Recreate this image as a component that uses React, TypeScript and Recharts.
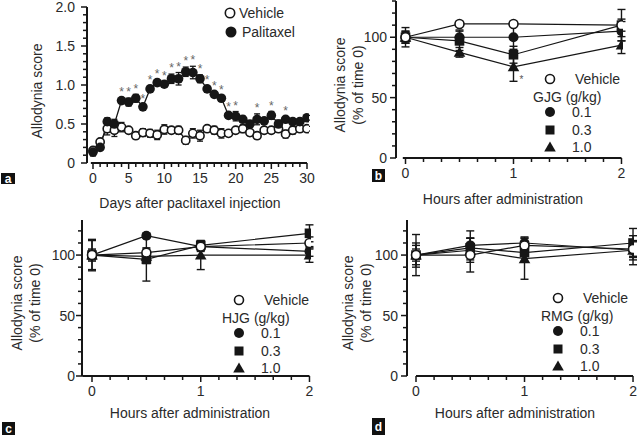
import React from 'react';
import { ComposedChart, Line, Scatter, XAxis, YAxis, ErrorBar, ReferenceLine } from 'recharts';

const FONT = '"Liberation Sans", Arial, sans-serif';
const INK = '#161616';
const TEXT = '#2a2a2a';

// panel a: allodynia score over days
const days = [0, 1, 2, 3, 4, 5, 6, 7, 8, 9, 10, 11, 12, 13, 14, 15, 16, 17, 18, 19, 20, 21, 22, 23, 24, 25, 26, 27, 28, 29, 30];
const vehicleA = [0.16, 0.27, 0.44, 0.42, 0.46, 0.42, 0.35, 0.39, 0.38, 0.36, 0.43, 0.42, 0.42, 0.29, 0.38, 0.35, 0.44, 0.42, 0.38, 0.38, 0.42, 0.44, 0.39, 0.35, 0.42, 0.42, 0.44, 0.37, 0.42, 0.44, 0.44];
const vehicleAErr = [0.04, 0.03, 0.08, 0.08, 0.06, 0.03, 0.04, 0.05, 0.05, 0.06, 0.06, 0.04, 0.05, 0.05, 0.06, 0.07, 0.03, 0.05, 0.06, 0.03, 0.03, 0.05, 0.04, 0.04, 0.03, 0.03, 0.04, 0.05, 0.05, 0.04, 0.03];
const paclitaxelA = [0.14, 0.2, 0.53, 0.5, 0.8, 0.78, 0.83, 0.72, 0.95, 1.03, 1.01, 1.08, 1.08, 1.17, 1.16, 1.08, 0.95, 0.88, 0.83, 0.61, 0.6, 0.56, 0.5, 0.56, 0.54, 0.61, 0.5, 0.56, 0.53, 0.53, 0.58];
const paclitaxelAErr = [0.05, 0.04, 0.05, 0.06, 0.03, 0.05, 0.05, 0.03, 0.04, 0.04, 0.03, 0.06, 0.08, 0.06, 0.08, 0.05, 0.04, 0.03, 0.03, 0.03, 0.06, 0.04, 0.04, 0.07, 0.04, 0.05, 0.05, 0.03, 0.04, 0.03, 0.03];
const starDaysA = [4, 5, 6, 7, 8, 9, 10, 11, 12, 13, 14, 15, 16, 17, 18, 19, 20, 23, 25, 27];

// panels b-d: % of time 0
const hours = [0, 0.5, 1, 2];

const gjgVehicle = [100, 111, 111, 110];
const gjgVehicleErr = [4, 2, 2, 5];
const gjgLow = [100, 100, 100, 105];
const gjgLowErr = [5, 6, 10, 8];
const gjgMid = [100, 97, 85.5, 110];
const gjgMidErr = [8, 8, 7, 13];
const gjgHigh = [100, 87.5, 75.5, 93.5];
const gjgHighErr = [5, 4, 12, 7];

const hjgVehicle = [100, 102, 107, 110];
const hjgVehicleErr = [5, 4, 4, 5];
const hjgLow = [100, 116, 107, 103];
const hjgLowErr = [4, 2, 3, 4];
const hjgMid = [100, 96.5, 108, 118];
const hjgMidErr = [12, 18, 4, 7];
const hjgHigh = [100, 99, 100, 100];
const hjgHighErr = [13, 6, 12, 6];

const rmgVehicle = [100, 100, 108, 105];
const rmgVehicleErr = [8, 14, 6, 6];
const rmgLow = [100, 108, 110, 104];
const rmgLowErr = [5, 12, 5, 12];
const rmgMid = [100, 106, 102, 110];
const rmgMidErr = [17, 8, 8, 12];
const rmgHigh = [100, 104, 97, 104];
const rmgHighErr = [10, 10, 17, 8];

const doseLabels = ['0.1', '0.3', '1.0'];

const range = (from: number, to: number, step: number) => {
  const out: number[] = [];
  for (let i = 0; from + i * step <= to + 1e-9; i++) out.push(+(from + i * step).toFixed(4));
  return out;
};
const isMultiple = (v: number, m: number) => Math.abs(v / m - Math.round(v / m)) < 1e-6;

type Kind = 'open' | 'circle' | 'square' | 'triangle';

function Marker({ kind, x, y, s }: { kind: Kind; x: number; y: number; s: number }) {
  if (kind === 'open') return <circle cx={x} cy={y} r={s - 0.5} fill="#fff" stroke={INK} strokeWidth={1.6} />;
  if (kind === 'circle') return <circle cx={x} cy={y} r={s} fill={INK} />;
  if (kind === 'square') return <rect x={x - s} y={y - s} width={s * 2} height={s * 2} fill={INK} />;
  return <polygon points={`${x},${y - s - 0.5} ${x - s - 0.8},${y + s - 0.5} ${x + s + 0.8},${y + s - 0.5}`} fill={INK} />;
}

const dot = (kind: Kind, s: number) => (p: any) => {
  const key = `${kind}-${p.index}`;
  if (p.cx == null || p.cy == null || p.value == null) return <g key={key} />;
  return <Marker key={key} kind={kind} x={p.cx} y={p.cy} s={s} />;
};

const xTick = (major: (v: number) => boolean, fmt: (v: number) => string) => (p: any) => {
  const { x, y, payload } = p;
  const v = payload.value;
  const m = major(v);
  return (
    <g>
      <line x1={x} x2={x} y1={y} y2={y + (m ? 6 : 4)} stroke={INK} strokeWidth={1.5} />
      {m && (
        <text x={x} y={y + 20} textAnchor="middle" fontSize={14} fill={TEXT} fontFamily={FONT}>
          {fmt(v)}
        </text>
      )}
    </g>
  );
};

const yTick = (major: (v: number) => boolean, fmt: (v: number) => string, gap: number) => (p: any) => {
  const { x, y, payload } = p;
  const v = payload.value;
  const m = major(v);
  return (
    <g>
      <line x1={x} x2={x - (m ? 6 : 4)} y1={y} y2={y} stroke={INK} strokeWidth={1.5} />
      {m && (
        <text x={x - gap} y={y + 5} textAnchor="end" fontSize={14} fill={TEXT} fontFamily={FONT}>
          {fmt(v)}
        </text>
      )}
    </g>
  );
};

const axisStroke = { stroke: INK, strokeWidth: 2 };

function PanelA() {
  const rows = days.map((d, i) => ({
    day: d,
    veh: vehicleA[i],
    vehErr: vehicleAErr[i],
    pac: paclitaxelA[i],
    pacErr: paclitaxelAErr[i],
  }));
  const stars = starDaysA.map((d) => {
    const i = days.indexOf(d);
    return { day: d, star: paclitaxelA[i] + paclitaxelAErr[i] + 0.1 };
  });
  return (
    <div style={{ position: 'absolute', left: 0, top: 0 }}>
      <ComposedChart width={320} height={220} data={rows} margin={{ top: 7, right: 11, bottom: 0, left: 0 }}>
        <XAxis
          type="number"
          dataKey="day"
          domain={[-0.84, 30.28]}
          ticks={days}
          interval={0}
          height={57}
          axisLine={false}
          tickLine={false}
          tickSize={0}
          tickMargin={0}
          tick={xTick((v) => isMultiple(v, 5), (v) => String(v))}
          allowDataOverflow
        />
        <YAxis
          type="number"
          domain={[0, 2]}
          ticks={range(0, 2, 0.1)}
          interval={0}
          width={87}
          axisLine={axisStroke}
          tickLine={false}
          tickSize={0}
          tickMargin={0}
          tick={yTick((v) => isMultiple(v, 0.5), (v) => (v === 0 ? '0' : v.toFixed(1)), 12)}
        />
        <ReferenceLine segment={[{ x: -0.3, y: 0 }, { x: 30, y: 0 }]} stroke={INK} strokeWidth={2} ifOverflow="visible" />
        <Line dataKey="veh" stroke={INK} strokeWidth={1.3} dot={dot('open', 4.6)} isAnimationActive={false}>
          <ErrorBar dataKey="vehErr" width={3} stroke={INK} strokeWidth={1.3} direction="y" />
        </Line>
        <Line dataKey="pac" stroke={INK} strokeWidth={1.3} dot={dot('circle', 4.8)} isAnimationActive={false}>
          <ErrorBar dataKey="pacErr" width={3} stroke={INK} strokeWidth={1.3} direction="y" />
        </Line>
        <Scatter
          data={stars}
          dataKey="star"
          isAnimationActive={false}
          shape={(p: any) => (
            <text x={p.cx} y={p.cy + 6} textAnchor="middle" fontSize={12} fill="#666" fontFamily={FONT}>
              *
            </text>
          )}
        />
      </ComposedChart>
    </div>
  );
}

type HourPanelProps = {
  left: number;
  top: number;
  width: number;
  height: number;
  yAxisWidth: number;
  marginTop: number;
  marginRight: number;
  xAxisHeight: number;
  xDomain: [number, number];
  yMax: number;
  lineStart: number;
  tickGap: number;
  veh: number[];
  vehErr: number[];
  low: number[];
  lowErr: number[];
  mid: number[];
  midErr: number[];
  high: number[];
  highErr: number[];
  starOnHigh?: number;
};

function HourPanel(p: HourPanelProps) {
  const rows = hours.map((h, i) => ({
    h,
    veh: p.veh[i],
    vehErr: p.vehErr[i],
    low: p.low[i],
    lowErr: p.lowErr[i],
    mid: p.mid[i],
    midErr: p.midErr[i],
    high: p.high[i],
    highErr: p.highErr[i],
  }));
  const starRows = p.starOnHigh == null ? [] : [{ h: hours[p.starOnHigh], v: p.high[p.starOnHigh] }];
  return (
    <div style={{ position: 'absolute', left: p.left, top: p.top }}>
      <ComposedChart
        width={p.width}
        height={p.height}
        data={rows}
        margin={{ top: p.marginTop, right: p.marginRight, bottom: 0, left: 0 }}
      >
        <XAxis
          type="number"
          dataKey="h"
          domain={p.xDomain}
          ticks={range(0, 2, 1 / 6)}
          interval={0}
          height={p.xAxisHeight}
          axisLine={false}
          tickLine={false}
          tickSize={0}
          tickMargin={0}
          tick={xTick((v) => isMultiple(v, 1), (v) => String(Math.round(v)))}
          allowDataOverflow
        />
        <YAxis
          type="number"
          domain={[0, p.yMax]}
          ticks={range(0, p.yMax, 10)}
          interval={0}
          width={p.yAxisWidth}
          axisLine={axisStroke}
          tickLine={false}
          tickSize={0}
          tickMargin={0}
          tick={yTick((v) => isMultiple(v, 50), (v) => String(v), p.tickGap)}
          allowDataOverflow
        />
        <ReferenceLine segment={[{ x: p.lineStart, y: 0 }, { x: 2, y: 0 }]} stroke={INK} strokeWidth={2} ifOverflow="visible" />
        <Line dataKey="high" stroke={INK} strokeWidth={1.2} dot={dot('triangle', 5)} isAnimationActive={false}>
          <ErrorBar dataKey="highErr" width={4} stroke={INK} strokeWidth={1.4} direction="y" />
        </Line>
        <Line dataKey="mid" stroke={INK} strokeWidth={1.2} dot={dot('square', 4.8)} isAnimationActive={false}>
          <ErrorBar dataKey="midErr" width={4} stroke={INK} strokeWidth={1.4} direction="y" />
        </Line>
        <Line dataKey="low" stroke={INK} strokeWidth={1.2} dot={dot('circle', 5)} isAnimationActive={false}>
          <ErrorBar dataKey="lowErr" width={4} stroke={INK} strokeWidth={1.4} direction="y" />
        </Line>
        <Line dataKey="veh" stroke={INK} strokeWidth={1.2} dot={dot('open', 5)} isAnimationActive={false}>
          <ErrorBar dataKey="vehErr" width={4} stroke={INK} strokeWidth={1.4} direction="y" />
        </Line>
        {starRows.length > 0 && (
          <Scatter
            data={starRows}
            dataKey="v"
            isAnimationActive={false}
            shape={(s: any) => (
              <text x={s.cx + 8} y={s.cy + 16} textAnchor="middle" fontSize={10} fill="#555" fontFamily={FONT}>
                *
              </text>
            )}
          />
        )}
      </ComposedChart>
    </div>
  );
}

function DoseLegend({ x, y, drug }: { x: number; y: number; drug: string }) {
  // x: symbol centre, y: first row centre
  const kinds: Kind[] = ['circle', 'square', 'triangle'];
  const rowY = [y + 33, y + 51, y + 68];
  return (
    <g fontFamily={FONT} fontSize={14} fill={TEXT}>
      <Marker kind="open" x={x} y={y} s={5} />
      <text x={x + 25} y={y + 5}>Vehicle</text>
      <text x={x - 17} y={y + 23}>{drug} (g/kg)</text>
      {kinds.map((k, i) => (
        <g key={k}>
          <Marker kind={k} x={x} y={rowY[i]} s={k === 'square' ? 4.5 : 5} />
          <text x={x + 22} y={rowY[i] + 5}>{doseLabels[i]}</text>
        </g>
      ))}
    </g>
  );
}

function PanelTag({ x, y, w, h, letter }: { x: number; y: number; w: number; h: number; letter: string }) {
  return (
    <g>
      <rect x={x} y={y} width={w} height={h} fill="#111" />
      <text x={x + w / 2} y={y + h / 2 + 4.5} textAnchor="middle" fontSize={12} fontWeight="bold" fill="#fff" fontFamily={FONT}>
        {letter}
      </text>
    </g>
  );
}

function YTitle({ x, y, lines }: { x: number; y: number; lines: string[] }) {
  return (
    <g fontFamily={FONT} fontSize={14} fill={TEXT}>
      {lines.map((l, i) => (
        <text key={l} transform={`translate(${x + i * 18},${y}) rotate(-90)`} textAnchor="middle" dominantBaseline="central">
          {l}
        </text>
      ))}
    </g>
  );
}

export default function App() {
  const titleLines = ['Allodynia score', '(% of time 0)'];
  return (
    <div style={{ position: 'absolute', left: 0, top: 0, width: 638, height: 435, background: '#fff', overflow: 'hidden' }}>
      <PanelA />
      <HourPanel
        left={320}
        top={0}
        width={318}
        height={220}
        yAxisWidth={76}
        marginTop={1}
        marginRight={15}
        xAxisHeight={62}
        xDomain={[-0.088, 2.014]}
        yMax={130}
        lineStart={-0.025}
        tickGap={9}
        veh={gjgVehicle}
        vehErr={gjgVehicleErr}
        low={gjgLow}
        lowErr={gjgLowErr}
        mid={gjgMid}
        midErr={gjgMidErr}
        high={gjgHigh}
        highErr={gjgHighErr}
        starOnHigh={2}
      />
      <HourPanel
        left={0}
        top={220}
        width={320}
        height={215}
        yAxisWidth={82}
        marginTop={0}
        marginRight={9}
        xAxisHeight={59}
        xDomain={[-0.092, 2.014]}
        yMax={129}
        lineStart={-0.09}
        tickGap={7}
        veh={hjgVehicle}
        vehErr={hjgVehicleErr}
        low={hjgLow}
        lowErr={hjgLowErr}
        mid={hjgMid}
        midErr={hjgMidErr}
        high={hjgHigh}
        highErr={hjgHighErr}
      />
      <HourPanel
        left={320}
        top={220}
        width={318}
        height={215}
        yAxisWidth={87}
        marginTop={0}
        marginRight={4}
        xAxisHeight={59}
        xDomain={[-0.083, 2.009]}
        yMax={129}
        lineStart={0}
        tickGap={9}
        veh={rmgVehicle}
        vehErr={rmgVehicleErr}
        low={rmgLow}
        lowErr={rmgLowErr}
        mid={rmgMid}
        midErr={rmgMidErr}
        high={rmgHigh}
        highErr={rmgHighErr}
      />
      <svg width={638} height={435} style={{ position: 'absolute', left: 0, top: 0, pointerEvents: 'none' }}>
        {/* panel a legend */}
        <g fontFamily={FONT} fontSize={14} fill={TEXT}>
          <Marker kind="open" x={230} y={13} s={5.2} />
          <text x={239} y={18}>Vehicle</text>
          <Marker kind="circle" x={231} y={32} s={5.5} />
          <text x={242} y={37}>Palitaxel</text>
        </g>
        <DoseLegend x={550} y={79} drug="GJG" />
        <DoseLegend x={239} y={300} drug="HJG" />
        <DoseLegend x={558} y={298} drug="RMG" />

        <g fontFamily={FONT} fontSize={14} fill={TEXT} textAnchor="middle">
          <text x={190} y={208}>Days after paclitaxel injection</text>
          <text x={503} y={204}>Hours after administration</text>
          <text x={190} y={418}>Hours after administration</text>
          <text x={515} y={418}>Hours after administration</text>
        </g>
        <YTitle x={37} y={91} lines={['Allodynia score']} />
        <YTitle x={340} y={85} lines={titleLines} />
        <YTitle x={17} y={303} lines={titleLines} />
        <YTitle x={348} y={303} lines={titleLines} />

        <PanelTag x={1} y={173} w={14} h={11} letter="a" />
        <PanelTag x={372} y={169} w={13} h={13} letter="b" />
        <PanelTag x={2} y={422} w={13} h={13} letter="c" />
        <PanelTag x={372} y={418} w={13} h={17} letter="d" />
      </svg>
    </div>
  );
}
